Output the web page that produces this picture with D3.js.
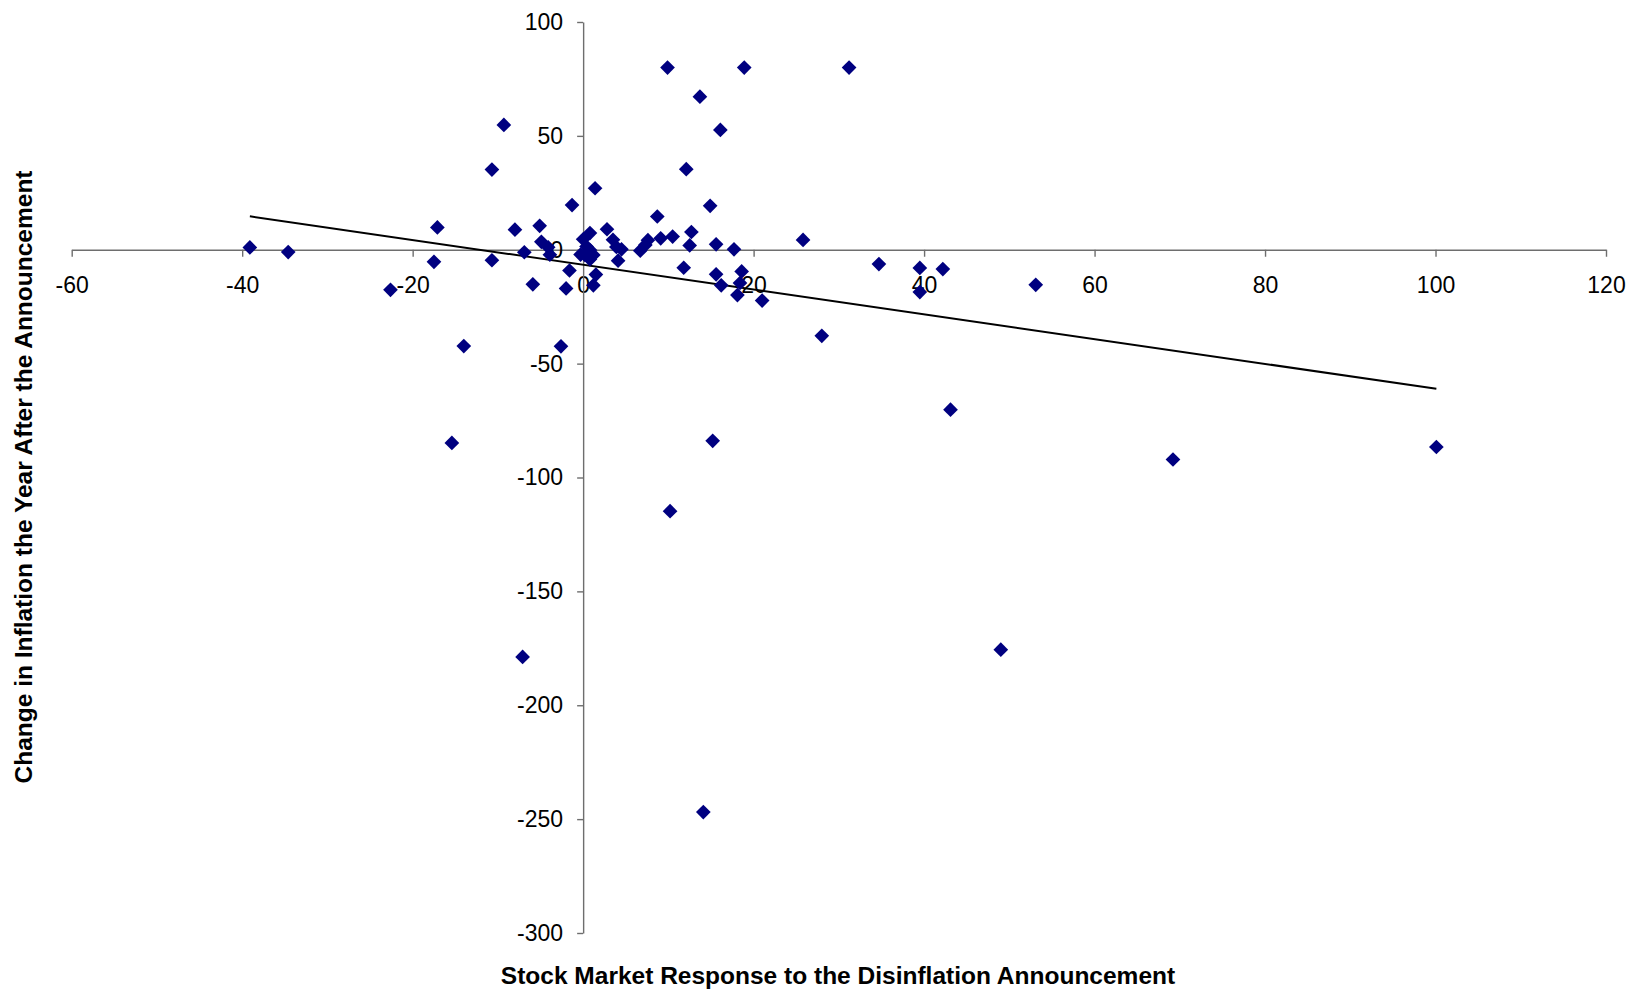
<!DOCTYPE html>
<html>
<head>
<meta charset="utf-8">
<script src="https://cdn.jsdelivr.net/npm/d3@7"></script>
<style>
  body { margin: 0; background: #fff; }
  svg text { font-family: "Liberation Sans", Arial, sans-serif; }
</style>
</head>
<body>
<div id="chart"></div>
<script>
// stock market response (x) vs change in inflation the year after (y)
const stockResponse = [
  -39.1, -34.6, -22.6, -17.1, -17.5, -14.0, -15.4, -9.3, -10.7, -10.7,
  -7.1, -8.0, -6.9, -5.9, -5.1, -4.9, -4.1, -3.9, -2.6, -2.0,
  -1.6, -1.3, 0.0, -0.3, 0.8, 0.4, 0.8, 0.2, 1.2, 0.8,
  1.4, 1.5, 1.2, 2.8, 3.5, 3.9, 4.1, 4.5, 6.7, 7.3,
  7.6, 8.7, 9.1, 9.9, 10.2, 10.5, 11.8, 12.1, 12.5, 12.7,
  13.7, 14.1, 14.9, 15.2, 15.6, 15.6, 16.1, 16.2, 17.7, 18.1,
  18.4, 18.6, 18.9, 21.0, 25.8, 28.0, 31.2, 34.7, 39.5, 39.5,
  42.2, 43.1, 49.0, 53.1, 69.2, 100.1
];
const inflationChange = [
  1.0, -1.0, -17.6, 9.8, -5.3, -42.3, -84.8, 54.8, 35.2, -4.6,
  -178.8, 8.8, -1.1, -15.2, 10.5, 3.5, 1.1, -2.2, -42.4, -17.0,
  -9.1, 19.6, 4.6, -2.1, 7.3, 1.4, -0.1, -2.3, -2.3, -4.2,
  27.0, -10.9, -15.6, 9.0, 4.4, 1.2, -4.8, 0.2, -0.4, 2.1,
  4.2, 14.6, 5.0, 80.0, -114.8, 5.8, -7.9, 35.4, 1.9, 7.8,
  67.2, -246.9, 19.3, -83.9, 2.4, -10.8, 52.6, -15.6, 0.2, -19.9,
  -14.6, -9.5, 80.0, -22.3, 4.3, -37.8, 80.0, -6.3, -8.0, -18.6,
  -8.5, -70.2, -175.6, -15.4, -92.1, -86.6
];
// linear trendline
const trendSlope = -0.544;
const trendIntercept = -6.6;

const xTicks = [-60, -40, -20, 0, 20, 40, 60, 80, 100, 120];
const yTicks = [-300, -250, -200, -150, -100, -50, 0, 50, 100];
const xTitle = "Stock Market Response to the Disinflation Announcement";
const yTitle = "Change in Inflation the Year After the Announcement";

const W = 1631, H = 991;
const points = stockResponse.map((v, i) => ({ x: v, y: inflationChange[i] }));

const svg = d3.select("#chart").append("svg")
  .attr("width", W)
  .attr("height", H);

const x = d3.scaleLinear().domain([-60, 120]).range([71.7, 1606]);
const y = d3.scaleLinear().domain([-300, 100]).range([933, 22]);

// x axis sits on y = 0
const xAxis = svg.append("g")
  .attr("transform", `translate(0, ${y(0)})`)
  .call(d3.axisBottom(x).tickValues(xTicks).tickFormat(d => String(d))
    .tickSize(7).tickSizeOuter(0).tickPadding(20));

// y axis sits on x = 0
const yAxis = svg.append("g")
  .attr("transform", `translate(${x(0)}, 0)`)
  .call(d3.axisLeft(y).tickValues(yTicks).tickFormat(d => String(d))
    .tickSize(6).tickSizeOuter(0).tickPadding(14));

[xAxis, yAxis].forEach(g => {
  g.select(".domain").attr("stroke", "#6e6e6e").attr("stroke-width", 1.4);
  g.selectAll(".tick line").attr("stroke", "#6e6e6e").attr("stroke-width", 1.4);
  g.selectAll(".tick text")
    .attr("fill", "#000")
    .style("font-family", "'Liberation Sans', Arial, sans-serif")
    .style("font-size", "23px");
});

// trendline across the range of the data
const [x0, x1] = d3.extent(points, d => d.x);
svg.append("line")
  .attr("x1", x(x0)).attr("y1", y(trendIntercept + trendSlope * x0))
  .attr("x2", x(x1)).attr("y2", y(trendIntercept + trendSlope * x1))
  .attr("stroke", "#000")
  .attr("stroke-width", 2);

// markers
const diamond = d3.symbol(d3.symbolSquare, 108);
svg.append("g").selectAll("path")
  .data(points)
  .join("path")
  .attr("d", diamond)
  .attr("transform", d => `translate(${x(d.x)}, ${y(d.y)}) rotate(45)`)
  .attr("fill", "#000080");

// axis titles
svg.append("text")
  .attr("x", 838)
  .attr("y", 984)
  .attr("text-anchor", "middle")
  .style("font-size", "24.5px")
  .style("font-weight", "bold")
  .text(xTitle);

svg.append("text")
  .attr("transform", `translate(32, 477) rotate(-90)`)
  .attr("text-anchor", "middle")
  .style("font-size", "24.5px")
  .style("font-weight", "bold")
  .text(yTitle);
</script>
</body>
</html>
